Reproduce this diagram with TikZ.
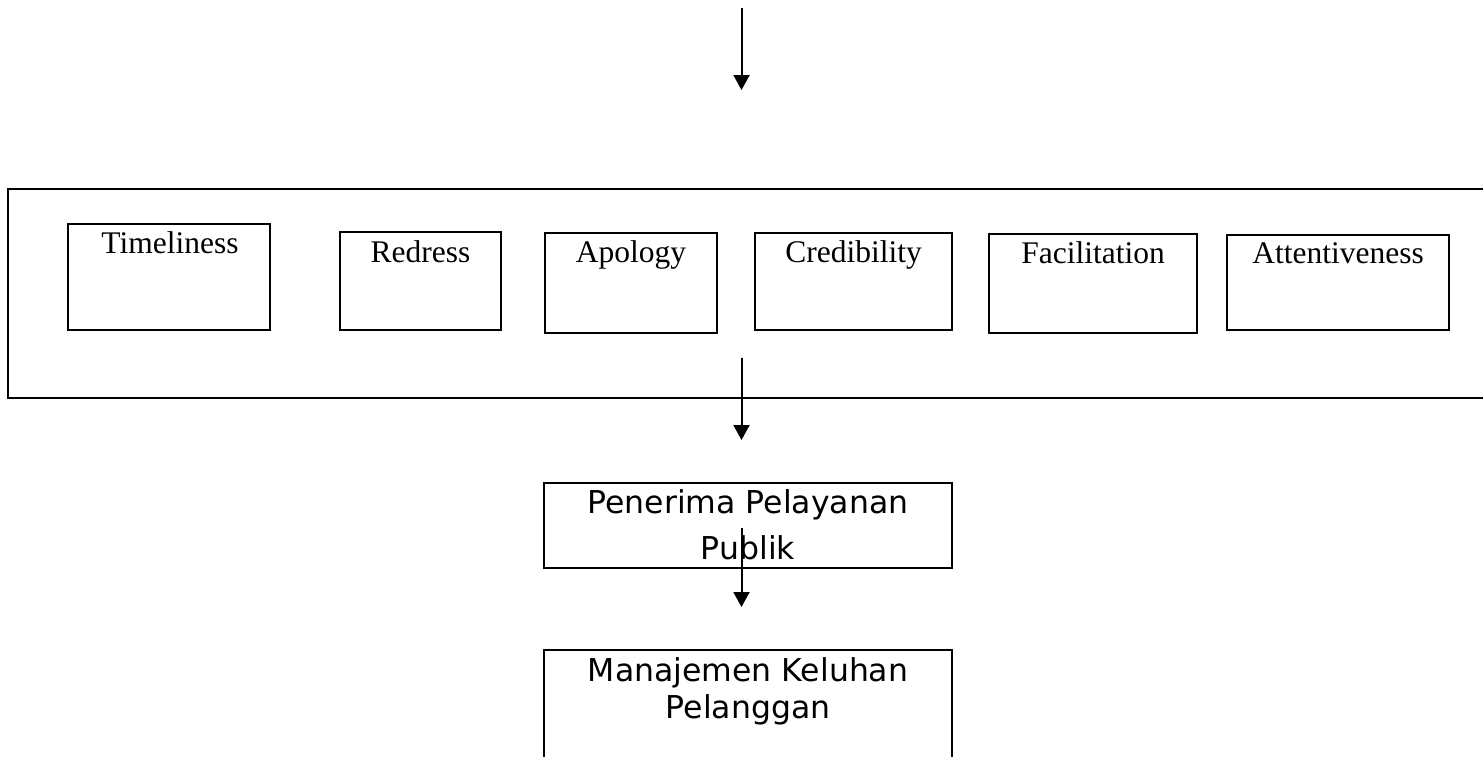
\documentclass[tikz,border=0pt]{standalone}
\usepackage{fontspec}
\usepackage{tikz}
\usetikzlibrary{arrows.meta,positioning}
\newfontfamily\dimfont{Liberation Serif}
\newfontfamily\stagefont{DejaVu Sans}

\tikzset{
  frame/.style={draw, line width=2pt, inner sep=0pt},
  dimbox/.style={frame, anchor=north},
  dimtxt/.style={font=\dimfont\fontsize{31.5}{37}\selectfont, anchor=base, inner sep=0pt},
  stagetxt/.style={font=\stagefont\fontsize{31.5}{37}\selectfont, align=center, anchor=base, inner sep=0pt},
  flow/.style={-{Triangle[length=15pt,width=16pt]}, line width=2pt},
}

\begin{document}
\begin{tikzpicture}[x=1pt,y=-1pt]
  \clip (0,0) rectangle (1483,756);

  % Outer frame (runs off the right edge)
  \node[frame, anchor=north west, minimum width=1500pt, minimum height=209pt] (outer) at (7,188) {};

  % Dimensions
  \node[dimbox, minimum width=202pt, minimum height=106pt] (timeliness) at (169,223) {};
  \node[dimtxt] (timeliness-txt) at (170,253) {Timeliness};

  \node[dimbox, minimum width=161pt, minimum height=98pt] (redress) at (420.5,231) {};
  \node[dimtxt] (redress-txt) at (420.5,262) {Redress};

  \node[dimbox, minimum width=172pt, minimum height=100pt] (apology) at (631,232) {};
  \node[dimtxt] (apology-txt) at (631,262) {Apology};

  \node[dimbox, minimum width=197pt, minimum height=97pt] (credibility) at (853.5,232) {};
  \node[dimtxt] (credibility-txt) at (853.5,262) {Credibility};

  \node[dimbox, minimum width=208pt, minimum height=99pt] (facilitation) at (1093,233) {};
  \node[dimtxt] (facilitation-txt) at (1093,263) {Facilitation};

  \node[dimbox, minimum width=222pt, minimum height=95pt] (attentiveness) at (1338,234) {};
  \node[dimtxt] (attentiveness-txt) at (1338,263) {Attentiveness};

  % Stages below (base = last line)
  \node[dimbox, minimum width=408pt, minimum height=85pt] (penerima) at (748,482) {};
  \node[stagetxt] (penerima-txt) at (748,559) {Penerima Pelayanan\\[9pt]Publik};

  \node[dimbox, minimum width=408pt, minimum height=160pt] (manajemen) at (748,649) {};
  \node[stagetxt] (manajemen-txt) at (748,718) {Manajemen Keluhan\\Pelanggan};

  % Arrows
  \coordinate (in-top) at (741.5,8);
  \coordinate (in-tip) at (741.5,90);
  \coordinate (out-top) at (741.5,358);
  \coordinate (out-tip) at (741.5,440);
  \coordinate (pub-top) at (741.5,528);
  \coordinate (pub-tip) at (741.5,607);
  \draw[flow] (in-top) -- (in-tip);
  \draw[flow] (out-top) -- (out-tip);
  \draw[flow] (pub-top) -- (pub-tip);
\end{tikzpicture}
\end{document}
